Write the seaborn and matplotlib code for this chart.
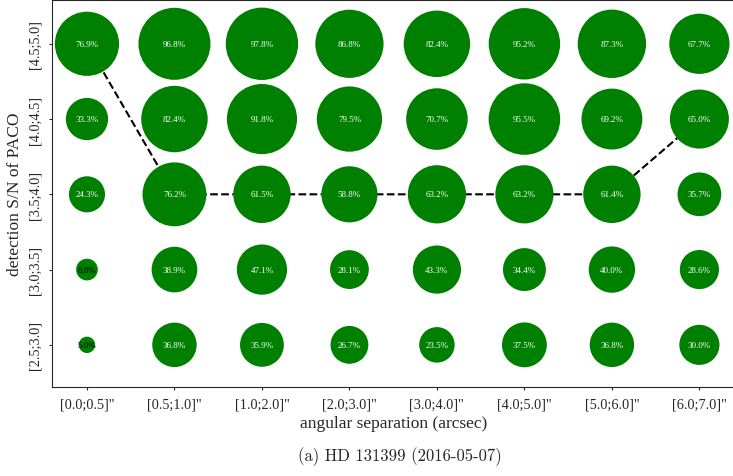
import pandas as pd
import numpy as np
import matplotlib
matplotlib.use('Agg')
import matplotlib.pyplot as plt
import seaborn as sns

# angular separation bins (x) and S/N bins (y, bottom to top)
sep_bins = ['[0.0;0.5]"', '[0.5;1.0]"', '[1.0;2.0]"', '[2.0;3.0]"',
            '[3.0;4.0]"', '[4.0;5.0]"', '[5.0;6.0]"', '[6.0;7.0]"']
snr_bins = ['[2.5;3.0]', '[3.0;3.5]', '[3.5;4.0]', '[4.0;4.5]', '[4.5;5.0]']

# detection rate (%) per S/N bin, one list per row
rate_25_30 = [5.0, 36.8, 35.9, 26.7, 23.5, 37.5, 36.8, 30.0]
rate_30_35 = [8.8, 38.9, 47.1, 28.1, 43.3, 34.4, 40.0, 28.6]
rate_35_40 = [24.3, 76.2, 61.5, 58.8, 63.2, 63.2, 61.4, 35.7]
rate_40_45 = [33.3, 82.4, 91.8, 79.5, 70.7, 95.5, 69.2, 65.0]
rate_45_50 = [76.9, 96.8, 97.8, 86.8, 82.4, 95.2, 87.3, 67.7]

# S/N bin index where the 50% detection limit sits, per separation bin
limit_row = [4, 2, 2, 2, 2, 2, 2, 3]

rates = [rate_25_30, rate_30_35, rate_35_40, rate_40_45, rate_45_50]
rows = []
for j, r in enumerate(rates):
    for i, p in enumerate(r):
        rows.append({'sep': i, 'snr': j, 'pct': p})
df = pd.DataFrame(rows)

sns.set_style('ticks')
plt.rcParams['font.family'] = ['Liberation Serif', 'DejaVu Serif']

fig = plt.figure(figsize=(7.33, 4.77), dpi=100)
ax = fig.add_axes([0.0709, 0.1866, 0.931, 0.811])

sns.lineplot(x=list(range(len(sep_bins))), y=limit_row, color='black',
             linestyle='--', linewidth=1.5, zorder=1, ax=ax)

# marker area proportional to the detection rate
sns.scatterplot(data=df, x='sep', y='snr', size='pct', sizes=(0, 2778),
                size_norm=(0, 100), color='green', linewidth=0,
                legend=False, zorder=3, ax=ax)

for _, row in df.iterrows():
    ax.text(row['sep'], row['snr'], '%.1f%%' % row['pct'],
            ha='center', va='center', fontsize=6.5,
            color='black' if row['pct'] < 10 else 'white', zorder=4)

ax.set_xlim(-0.4, 7.4)
ax.set_ylim(-0.56, 4.58)
ax.set_xticks(range(len(sep_bins)))
ax.set_xticklabels(sep_bins, fontsize=10.3)
ax.set_yticks(range(len(snr_bins)))
ax.set_yticklabels(snr_bins, fontsize=10.3, rotation=90, va='center')
ax.tick_params(length=2.5, pad=5)
ax.set_xlabel('angular separation (arcsec)', fontsize=12.5, labelpad=3)
ax.set_ylabel('detection S/N of PACO', fontsize=12.5, labelpad=4)

fig.text(0.546, 0.042, '(a) HD 131399 (2016-05-07)', ha='center',
         va='center', fontsize=12, family='cmr10')

fig.savefig('out.png', dpi=100)
